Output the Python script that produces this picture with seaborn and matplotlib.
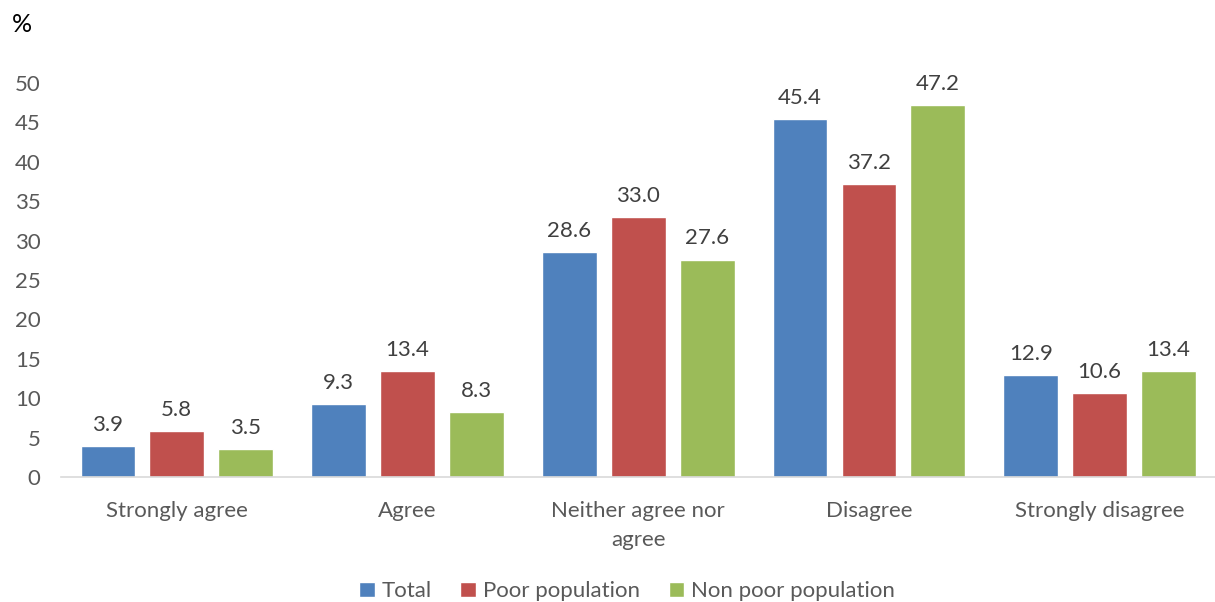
import pandas as pd
import numpy as np
import matplotlib.pyplot as plt
import seaborn as sns

# data
categories = ["Strongly agree", "Agree", "Neither agree nor\nagree", "Disagree", "Strongly disagree"]
groups = ["Total", "Poor population", "Non poor population"]
total = [3.9, 9.3, 28.6, 45.4, 12.9]
poor = [5.8, 13.4, 33.0, 37.2, 10.6]
non_poor = [3.5, 8.3, 27.6, 47.2, 13.4]

colors = ["#4F81BD", "#C0504D", "#9BBB59"]

df = pd.DataFrame({"Category": categories * 3,
                   "Group": np.repeat(groups, len(categories)),
                   "Value": total + poor + non_poor})

sns.set_style("white")
plt.rcParams['font.family'] = ['Lato', 'DejaVu Sans']

fig = plt.figure(figsize=(12.15, 6.02), dpi=100)
ax = fig.add_axes([0.0506, 0.2076, 0.9494, 0.6545])

sns.barplot(data=df, x="Category", y="Value", hue="Group", hue_order=groups,
            palette=colors, width=0.896, gap=0.204, saturation=1, ax=ax,
            legend=True)

for cont in ax.containers:
    ax.bar_label(cont, fmt="%.1f", padding=8, fontsize=16, color="#404040")

ax.set_ylim(0, 50)
ax.set_yticks(range(0, 51, 5))
ax.set_xlim(-0.5, 4.5)
ax.set_xlabel("")
ax.set_ylabel("")
ax.tick_params(axis="both", labelsize=16, colors="#595959", length=0)
ax.tick_params(axis="x", pad=17)
ax.tick_params(axis="y", pad=15)
for lab in ax.get_xticklabels():
    lab.set_linespacing(1.6)
for s in ["top", "right", "left"]:
    ax.spines[s].set_visible(False)
ax.spines["bottom"].set_color("#D9D9D9")
ax.spines["bottom"].set_linewidth(1.2)

fig.text(0.010, 0.960, "%", fontsize=18, color="black", va="center")

handles, labels = ax.get_legend_handles_labels()
ax.get_legend().remove()
fig.legend(handles, labels, loc="center", bbox_to_anchor=(0.516, 0.018), ncol=3,
           frameon=False, fontsize=16, labelcolor="#595959",
           handlelength=0.7, handleheight=0.7, handletextpad=0.3, columnspacing=1.3)

fig.savefig("out.png", dpi=100)
